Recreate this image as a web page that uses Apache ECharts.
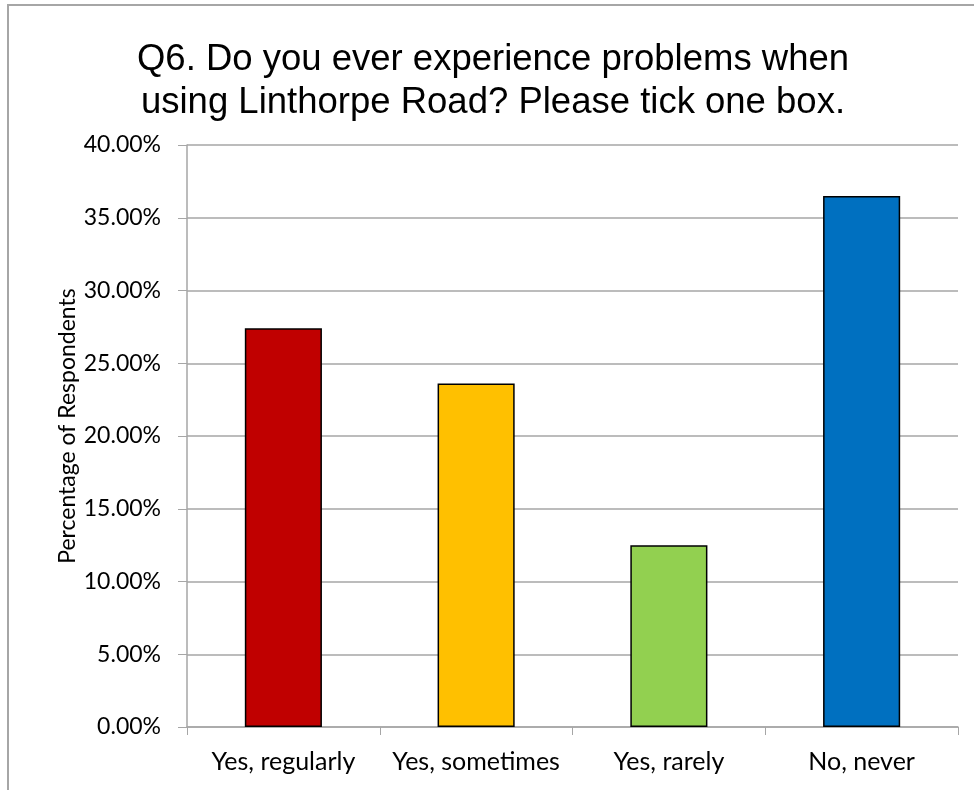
<!DOCTYPE html>
<html>
<head>
<meta charset="utf-8">
<script src="https://cdn.jsdelivr.net/npm/echarts@6/dist/echarts.min.js"></script>
<style>
  html, body { margin: 0; padding: 0; background: #fff; }
  #chart { width: 974px; height: 790px; }
</style>
</head>
<body>
<div id="chart"></div>
<script>
// data
var categories = ['Yes, regularly', 'Yes, sometimes', 'Yes, rarely', 'No, never'];
var percentages = [27.4, 23.6, 12.5, 36.5];
var barColors = ['#C00000', '#FFC000', '#92D050', '#0070C0'];

var chart = echarts.init(document.getElementById('chart'));

var opt = {
    animation: false,
    title: {
        text: 'Q6. Do you ever experience problems when\nusing Linthorpe Road? Please tick one box.',
        left: 488,
        top: 33,
        textAlign: 'center',
        textStyle: {
            fontFamily: '"Liberation Sans", Arial, sans-serif',
            fontWeight: 'normal',
            fontSize: 36.5,
            lineHeight: 43,
            color: '#000'
        }
    },
    graphic: [
        {
            type: 'rect',
            shape: { x: 8, y: 5, width: 1200, height: 1200 },
            style: { fill: 'none', stroke: '#a6a6a6', lineWidth: 2 },
            silent: true
        }
    ],
    grid: {
        left: 187,
        right: 16,
        top: 145,
        bottom: 63
    },
    xAxis: {
        type: 'category',
        data: categories,
        axisLine: { lineStyle: { color: '#a6a6a6', width: 1.5 } },
        axisTick: { show: true, length: 8, lineStyle: { color: '#a6a6a6' } },
        axisLabel: {
            interval: 0,
            color: '#000',
            fontFamily: 'Lato, "Open Sans", sans-serif',
            fontSize: 25,
            margin: 22
        }
    },
    yAxis: {
        type: 'value',
        min: 0,
        max: 40,
        interval: 5,
        name: 'Percentage of Respondents',
        nameLocation: 'middle',
        nameGap: 108,
        nameMoveOverlap: false,
        nameTextStyle: {
            color: '#000',
            fontFamily: 'Lato, "Open Sans", sans-serif',
            fontSize: 23,
            padding: [0, 0, 0, 20]
        },
        axisLine: { show: true, lineStyle: { color: '#a6a6a6', width: 1.5 } },
        axisTick: { show: true, length: 9, lineStyle: { color: '#a6a6a6' } },
        splitLine: { lineStyle: { color: '#a6a6a6', width: 1.5 } },
        axisLabel: {
            color: '#000',
            fontFamily: 'Lato, "Open Sans", sans-serif',
            fontSize: 23,
            margin: 26,
            formatter: function (v) { return v.toFixed(2) + '%'; }
        }
    },
    series: [
        {
            type: 'bar',
            barWidth: '40%',
            data: percentages.map(function (v, i) {
                return {
                    value: v,
                    itemStyle: { color: barColors[i] }
                };
            }),
            itemStyle: {
                borderColor: '#000',
                borderWidth: 1.5
            }
        }
    ]
};

chart.setOption(opt);

window.addEventListener('resize', function () {
    chart.resize();
});
</script>
</body>
</html>
